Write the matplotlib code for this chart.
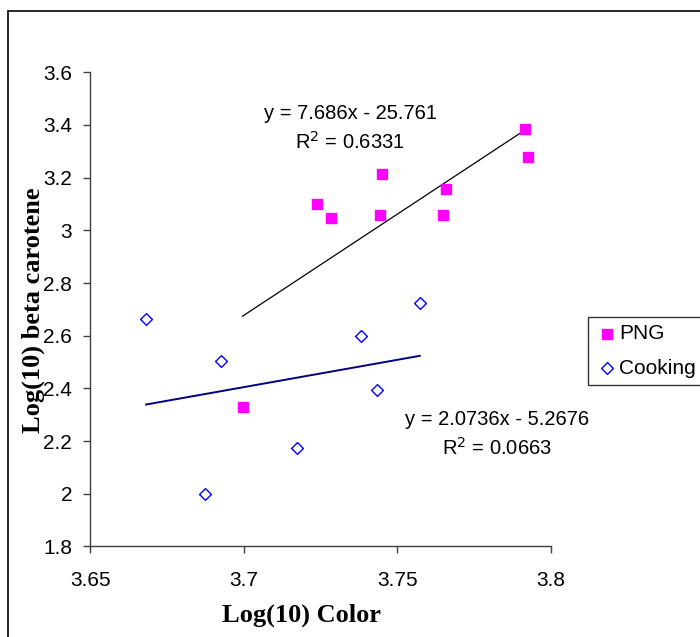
"""Log(10) beta carotene vs Log(10) color, PNG and Cooking samples with trendlines."""

import numpy as np
import matplotlib
matplotlib.use("Agg")
import matplotlib.pyplot as plt
from matplotlib.patches import Rectangle

png_x = [3.7916, 3.7926, 3.7449, 3.7660, 3.7238, 3.7283, 3.7443, 3.7650, 3.6996]
png_y = [3.384, 3.279, 3.2145, 3.156, 3.100, 3.048, 3.060, 3.060, 2.331]

cook_x = [3.6682, 3.6926, 3.7381, 3.7573, 3.7435, 3.7174, 3.6875]
cook_y = [2.6625, 2.5036, 2.5992, 2.7226, 2.3926, 2.1736, 1.9994]

# trendline coefficients as printed on the chart
png_fit = (7.686, -25.761)
cook_fit = (2.0736, -5.2676)
png_label = "y = 7.686x - 25.761\nR$^2$ = 0.6331"
cook_label = "y = 2.0736x - 5.2676\nR$^2$ = 0.0663"

x_ticks = [3.65, 3.7, 3.75, 3.8]
x_tick_labels = ["3.65", "3.7", "3.75", "3.8"]
y_ticks = [1.8, 2.0, 2.2, 2.4, 2.6, 2.8, 3.0, 3.2, 3.4, 3.6]
y_tick_labels = ["1.8", "2", "2.2", "2.4", "2.6", "2.8", "3", "3.2", "3.4", "3.6"]

plt.rcParams["font.family"] = ["Liberation Sans", "DejaVu Sans"]

fig = plt.figure(figsize=(7, 6.37), dpi=100)
ax = fig.add_axes([0.1289, 0.1422, 0.6581, 0.7443])

# chart border (runs off the right and bottom edge)
fig.patches.append(Rectangle((8 / 700, -0.1), 1.2, 1.1 - 11 / 637,
                             transform=fig.transFigure, fill=False,
                             edgecolor="black", linewidth=1.2))

ax.scatter(png_x, png_y, marker="s", s=46, color="#FF00FF", zorder=3, label="PNG")
ax.scatter(cook_x, cook_y, marker="D", s=36, facecolor="white",
           edgecolor="#0000FF", linewidth=1.0, zorder=3, label="Cooking")

xs = np.array([min(png_x), max(png_x)])
ax.plot(xs, png_fit[0] * xs + png_fit[1], color="black", linewidth=0.9, zorder=2)
xs = np.array([min(cook_x), max(cook_x)])
ax.plot(xs, cook_fit[0] * xs + cook_fit[1], color="#000080", linewidth=1.4, zorder=2)

ax.text(350 / 700, 1 - 128 / 637, png_label, transform=fig.transFigure,
        ha="center", va="center", fontsize=14.5, linespacing=1.45)
ax.text(497 / 700, 1 - 434 / 637, cook_label, transform=fig.transFigure,
        ha="center", va="center", fontsize=14.5, linespacing=1.45)

ax.set_xlim(3.65, 3.8)
ax.set_ylim(1.8, 3.6)
ax.set_xticks(x_ticks)
ax.set_xticklabels(x_tick_labels)
ax.set_yticks(y_ticks)
ax.set_yticklabels(y_tick_labels)
ax.tick_params(axis="both", labelsize=15, length=5, width=1, color="#404040", direction="out")
ax.tick_params(axis="x", pad=13)
ax.tick_params(axis="y", pad=8)

for side in ["top", "right"]:
    ax.spines[side].set_visible(False)
for side in ["left", "bottom"]:
    ax.spines[side].set_color("#404040")
    ax.spines[side].set_linewidth(1)

fig.text(301 / 700, 1 - 615 / 637, "Log(10) Color", ha="center", va="center",
         fontsize=19, fontweight="bold", family=["Liberation Serif", "DejaVu Serif"])
fig.text(33 / 700, 1 - 310 / 637, "Log(10) beta carotene", ha="center", va="center",
         rotation=90, fontsize=19, fontweight="bold",
         family=["Liberation Serif", "DejaVu Serif"])

leg = ax.legend(loc="upper left", bbox_to_anchor=(588 / 700, 1 - 317 / 637),
                bbox_transform=fig.transFigure, fontsize=15, frameon=True,
                fancybox=False, borderpad=0.35, handletextpad=0.05,
                handlelength=1.1, labelspacing=0.75, borderaxespad=0)
leg.get_frame().set_edgecolor("black")
leg.get_frame().set_linewidth(1)

fig.savefig("out.png", dpi=100)
